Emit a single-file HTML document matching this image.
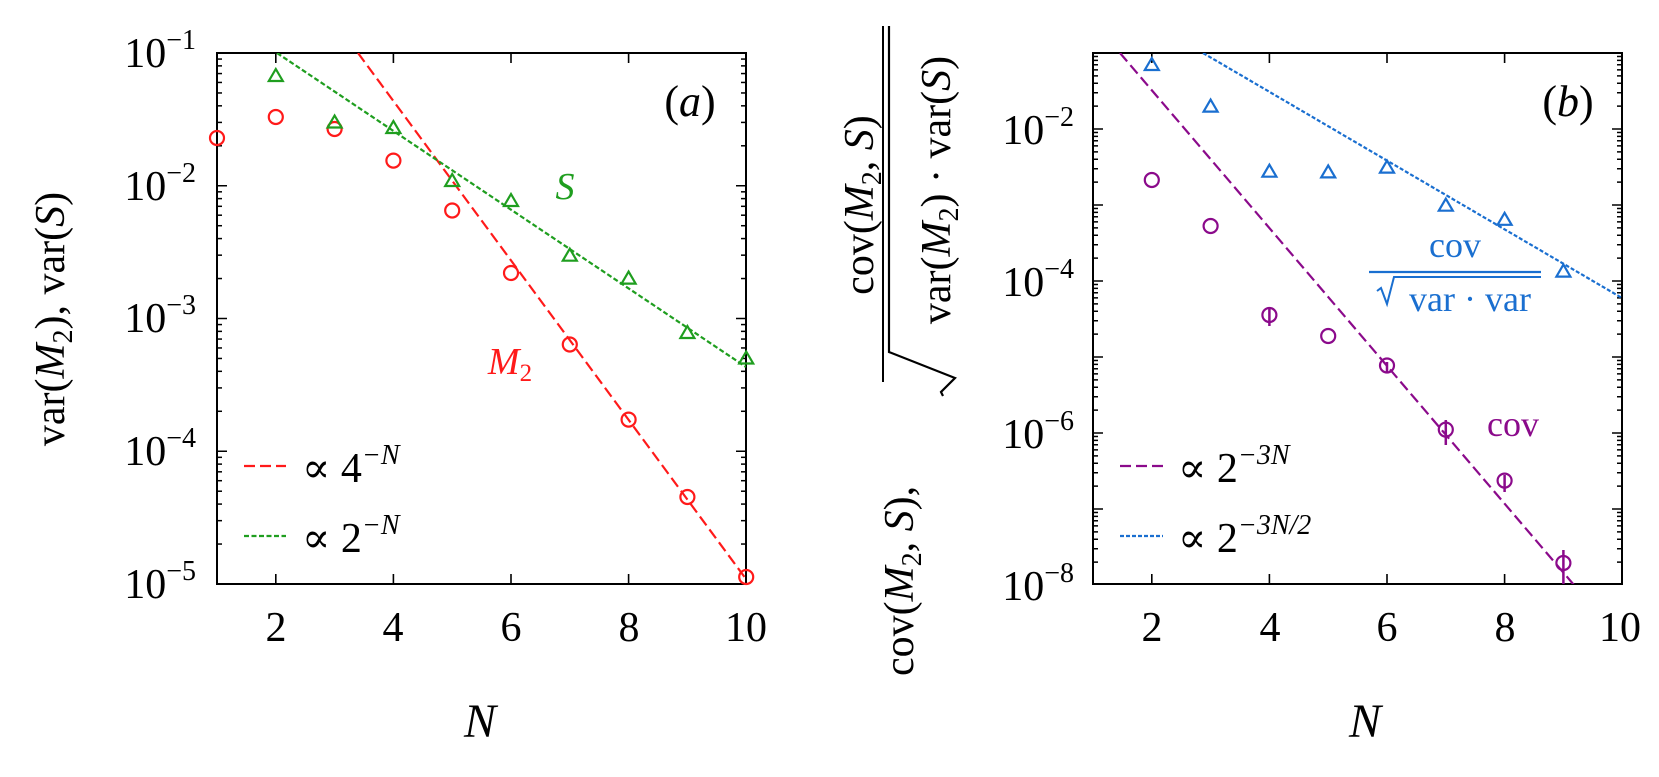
<!DOCTYPE html>
<html><head><meta charset="utf-8"><style>
html,body{margin:0;padding:0;background:#fff;}
svg, svg text, svg tspan{font-family:"Liberation Serif","DejaVu Serif","Noto Serif CJK SC",serif;}
</style></head><body>
<svg id="s" width="1659" height="772" viewBox="0 0 1659 772" xmlns="http://www.w3.org/2000/svg">
<defs>
<clipPath id="ca"><rect x="217" y="53" width="529" height="531"/></clipPath>
<clipPath id="cb"><rect x="1093" y="53" width="529" height="531"/></clipPath>
</defs>
<g id="g"></g>
<g font-size="42" fill="#000">
<g text-anchor="end">
<text x="196" y="67">10<tspan font-size="28" dy="-18">−1</tspan></text>
<text x="196" y="200">10<tspan font-size="28" dy="-18">−2</tspan></text>
<text x="196" y="332">10<tspan font-size="28" dy="-18">−3</tspan></text>
<text x="196" y="465">10<tspan font-size="28" dy="-18">−4</tspan></text>
<text x="196" y="598">10<tspan font-size="28" dy="-18">−5</tspan></text>
</g>
<g text-anchor="middle">
<text x="276" y="641">2</text><text x="393" y="641">4</text><text x="511" y="641">6</text><text x="629" y="641">8</text><text x="746" y="641">10</text>
<text x="480" y="737" font-size="48" font-style="italic">N</text>
<text transform="translate(64,319) rotate(-90)">var(<tspan font-style="italic">M</tspan><tspan font-size="28" dy="8">2</tspan><tspan dy="-8">), var(</tspan><tspan font-style="italic">S</tspan>)</text>
</g>
<text x="690" y="116" text-anchor="middle" font-size="44">(<tspan font-style="italic">a</tspan>)</text>
<text x="565" y="199" text-anchor="middle" font-style="italic" fill="#1f9e1f" font-size="38">S</text>
<text x="510" y="374" text-anchor="middle" font-style="italic" fill="#ff1a1a" font-size="38">M<tspan font-size="25" dy="7" font-style="normal">2</tspan></text>
<text x="302" y="482" font-size="42">∝ 4<tspan font-size="28" dy="-18" font-style="italic">−N</tspan></text>
<text x="302" y="552" font-size="42">∝ 2<tspan font-size="28" dy="-18" font-style="italic">−N</tspan></text>
</g>
<line x1="244" y1="466" x2="286" y2="466" stroke="#ff1a1a" stroke-width="2.2" stroke-dasharray="11,5"/>
<line x1="244" y1="536" x2="286" y2="536" stroke="#1f9e1f" stroke-width="2.2" stroke-dasharray="5,2.5"/>
<g font-size="42" fill="#000">
<g text-anchor="end">
<text x="1074" y="144">10<tspan font-size="28" dy="-18">−2</tspan></text>
<text x="1074" y="296">10<tspan font-size="28" dy="-18">−4</tspan></text>
<text x="1074" y="448">10<tspan font-size="28" dy="-18">−6</tspan></text>
<text x="1074" y="600">10<tspan font-size="28" dy="-18">−8</tspan></text>
</g>
<g text-anchor="middle">
<text x="1152" y="641">2</text><text x="1270" y="641">4</text><text x="1387" y="641">6</text><text x="1505" y="641">8</text><text x="1620" y="641">10</text>
<text x="1365" y="737" font-size="48" font-style="italic">N</text>
</g>
<text transform="translate(913,676) rotate(-90)">cov(<tspan font-style="italic">M</tspan><tspan font-size="28" dy="8">2</tspan><tspan dy="-8">, </tspan><tspan font-style="italic">S</tspan>),</text>
<text transform="translate(873,205) rotate(-90)" text-anchor="middle">cov(<tspan font-style="italic">M</tspan><tspan font-size="28" dy="8">2</tspan><tspan dy="-8">, </tspan><tspan font-style="italic">S</tspan>)</text>
<text transform="translate(950,190) rotate(-90)" text-anchor="middle">var(<tspan font-style="italic">M</tspan><tspan font-size="28" dy="8">2</tspan><tspan dy="-8">) · var(</tspan><tspan font-style="italic">S</tspan>)</text>
<text x="1568" y="116" text-anchor="middle" font-size="44">(<tspan font-style="italic">b</tspan>)</text>
<text x="1455" y="257" text-anchor="middle" fill="#1a6fd0" font-size="36">cov</text>
<text x="1470" y="311" text-anchor="middle" fill="#1a6fd0" font-size="36">var · var</text>
<text x="1513" y="436" text-anchor="middle" fill="#8b0a8b" font-size="36">cov</text>
<text x="1178" y="482" font-size="42">∝ 2<tspan font-size="28" dy="-18" font-style="italic">−3N</tspan></text>
<text x="1178" y="552" font-size="42">∝ 2<tspan font-size="28" dy="-18" font-style="italic">−3N/2</tspan></text>
</g>
<line x1="883" y1="26" x2="883" y2="382" stroke="#000" stroke-width="2"/>
<path d="M889,26 L889,352 L955,378 L941,392 L943,396" fill="none" stroke="#000" stroke-width="2.2"/>
<line x1="1369" y1="272" x2="1541" y2="272" stroke="#1a6fd0" stroke-width="2.2"/>
<path d="M1377,291 L1381,288 L1387,304 L1394,277 L1541,277" fill="none" stroke="#1a6fd0" stroke-width="2"/>
<line x1="1120" y1="466" x2="1163" y2="466" stroke="#8b0a8b" stroke-width="2.2" stroke-dasharray="11,5"/>
<line x1="1120" y1="536" x2="1163" y2="536" stroke="#1a6fd0" stroke-width="2.2" stroke-dasharray="4,2"/>
</svg>
<script>
var NS="http://www.w3.org/2000/svg",g=document.getElementById("g");
function el(t,a){var e=document.createElementNS(NS,t);for(var k in a)e.setAttribute(k,a[k]);g.appendChild(e);return e;}
function frame(x0,y0,w,h,ydec,dpx,xs){
  el("rect",{x:x0,y:y0,width:w,height:h,fill:"none",stroke:"#000","stroke-width":2});
  for(var n=2;n<=10;n+=2){var x=x0+(n-1)*xs;el("line",{x1:x,y1:y0+h,x2:x,y2:y0+h-10,stroke:"#000","stroke-width":1.6});el("line",{x1:x,y1:y0,x2:x,y2:y0+10,stroke:"#000","stroke-width":1.6});}
  for(var d=0;d<ydec;d++){
    for(var m=1;m<10;m++){var y=y0+(d+1-Math.log10(m))*dpx; if(y<y0-0.5||y>y0+h+0.5)continue;
      var len=m==1?10:5;
      el("line",{x1:x0,y1:y,x2:x0+len,y2:y,stroke:"#000","stroke-width":1.5});
      el("line",{x1:x0+w,y1:y,x2:x0+w-len,y2:y,stroke:"#000","stroke-width":1.5});}
  }
}
frame(217,53,529,531,4,132.75,58.8);
frame(1093,53,529,531,7,76,58.8);
function circ(x,y,c){el("circle",{cx:x,cy:y,r:7,fill:"none",stroke:c,"stroke-width":2.2});}
function tri(x,y,c){el("path",{d:"M"+(x-7)+","+(y+5)+" L"+(x+7)+","+(y+5)+" L"+x+","+(y-7)+" Z",fill:"none",stroke:c,"stroke-width":2.2});}
var R="#ff1a1a",G="#1f9e1f",P="#8b0a8b",B="#1a6fd0";
function ln(p,a){var e=document.createElementNS(NS,"line");for(var k in a)e.setAttribute(k,a[k]);p.appendChild(e);}
var ca=el("g",{"clip-path":"url(#ca)"});
ln(ca,{x1:358,y1:53,x2:746,y2:579,stroke:R,"stroke-width":2.2,"stroke-dasharray":"11,5"});
ln(ca,{x1:277,y1:53,x2:746,y2:367,stroke:G,"stroke-width":2.2,"stroke-dasharray":"5,2.5"});
var cb=el("g",{"clip-path":"url(#cb)"});
ln(cb,{x1:1120,y1:53,x2:1574,y2:585,stroke:P,"stroke-width":2.2,"stroke-dasharray":"11,5"});
ln(cb,{x1:1203,y1:53,x2:1622,y2:298,stroke:B,"stroke-width":2.2,"stroke-dasharray":"4,2"});
var xa=function(n){return 217+(n-1)*58.8;};
[[1,138],[2,117],[3,129],[4,160.6],[5,210.5],[6,273],[7,344.5],[8,419.6],[9,497],[10,577]].forEach(function(p){circ(xa(p[0]),p[1],R);});
[[2,76],[3,122.5],[4,128],[5,181],[6,201],[7,255.7],[8,278.6],[9,333],[10,358.5]].forEach(function(p){tri(xa(p[0]),p[1],G);});
var xb=function(n){return 1093+(n-1)*58.8;};
[[2,65],[3,106.6],[4,171.7],[5,172.4],[6,167.6],[7,205.7],[8,219.8],[9,271.6]].forEach(function(p){tri(xb(p[0]),p[1],B);});
[[2,180],[3,226],[4,315,308,326],[5,336],[6,365.5,362,372],[7,429.6,420,445],[8,480.6,475,492],[9,563,550,584]].forEach(function(p){
  var x=xb(p[0]); if(p[2]) el("line",{x1:x,y1:p[2],x2:x,y2:p[3],stroke:P,"stroke-width":2.5});
  circ(x,p[1],P);});
</script>
</body></html>
